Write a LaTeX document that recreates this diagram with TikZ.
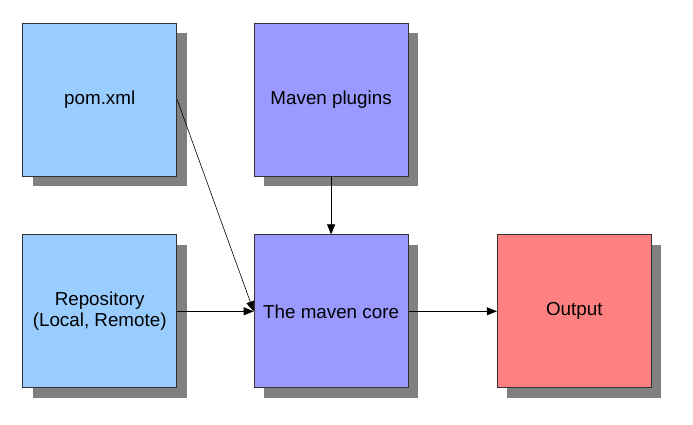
\documentclass[tikz,border=0pt]{standalone}
\usepackage{fontspec}
\setmainfont{Liberation Sans}
\usepackage{tikz}
\usetikzlibrary{positioning}
\usetikzlibrary{arrows.meta,shadows}
\definecolor{pomblue}{RGB}{153,204,255}
\definecolor{coreviolet}{RGB}{153,153,255}
\definecolor{outred}{RGB}{255,128,128}
\tikzstyle{block} = [rectangle, draw=black!80, line width=0.8pt, minimum width=154pt, minimum height=153pt, inner sep=0pt, align=center, font=\fontsize{18.8}{21}\selectfont, drop shadow={shadow xshift=10pt, shadow yshift=-10pt, fill=black!50, opacity=1}]
\tikzstyle{arrow} = [line width=0.6pt, -{Triangle[length=10pt,width=8pt]}]

\begin{document}
\begin{tikzpicture}
		\useasboundingbox (0,0) rectangle (693pt,425pt);
		\node[block,fill=pomblue] (pom) at (99.7pt,325.5pt) {pom.xml};
		\node[block,fill=coreviolet,right=76.6pt of pom] (plugins) {Maven plugins};
		\node[block,fill=pomblue,below=58pt of pom] (repo) {Repository\\(Local, Remote)};
		\node[block,fill=coreviolet,right=76.6pt of repo] (core) {The maven core};
		\node[block,fill=outred,right=88.4pt of core] (output) {Output};
		\draw[arrow] (pom.east)--(core.west);
		\draw[arrow] (plugins.south)--(core.north);
		\draw[arrow] (repo.east)--(core.west);
		\draw[arrow] (core.east)--(output.west);
	\end{tikzpicture}
\end{document}
